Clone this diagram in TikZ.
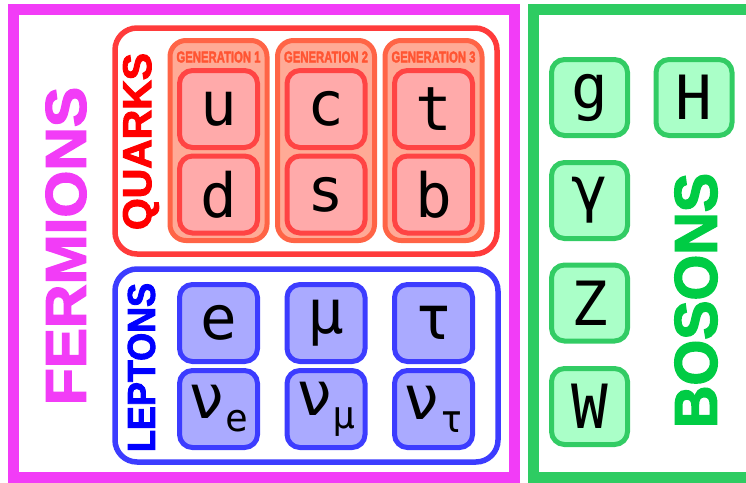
\documentclass[tikz,border=0pt]{standalone}
\usepackage{fontspec}
\usepackage{graphicx}
\setmainfont{DejaVu Sans Mono}
\newfontfamily\capsfont{Liberation Sans}[BoldFont={Liberation Sans Bold},BoldFeatures={FakeBold=2.5}]

\definecolor{fermline}{RGB}{242,60,247}
\definecolor{bosonline}{RGB}{46,204,98}
\definecolor{bosontext}{RGB}{0,204,68}
\definecolor{quarkframe}{RGB}{255,59,59}
\definecolor{quarktext}{RGB}{255,0,0}
\definecolor{genline}{RGB}{255,100,70}
\definecolor{genfill}{RGB}{255,170,150}
\definecolor{gentext}{RGB}{255,85,51}
\definecolor{quarkline}{RGB}{255,68,68}
\definecolor{quarkfill}{RGB}{255,170,170}
\definecolor{leptonline}{RGB}{60,60,255}
\definecolor{leptontext}{RGB}{0,0,255}
\definecolor{leptonfill}{RGB}{170,170,255}
\definecolor{bosonfill}{RGB}{170,255,200}
\definecolor{bosonpart}{RGB}{50,204,100}

\newcommand{\partsize}{\fontsize{61pt}{61pt}\selectfont}
\newcommand{\subsize}{\fontsize{38pt}{38pt}\selectfont}
\newcommand{\grouplabel}[3]{\resizebox{#1}{#2}{\capsfont\bfseries #3}}
\newcommand{\nusub}[1]{ν\raisebox{-13pt}{\subsize #1}}

\begin{document}
\begin{tikzpicture}[x=1pt,y=-1pt,
    particle/.style={line width=5pt,rounded corners=13pt,minimum width=78pt,
        minimum height=77pt,inner sep=0pt,font=\partsize},
    quark/.style={particle,draw=quarkline,fill=quarkfill},
    lepton/.style={particle,draw=leptonline,fill=leptonfill},
    boson/.style={particle,draw=bosonpart,fill=bosonfill,minimum width=76pt,minimum height=76pt},
    genbox/.style={draw=genline,fill=genfill,line width=5pt,rounded corners=16pt,
        minimum width=97pt,minimum height=200pt,inner sep=0pt},
    groupbox/.style={line width=5.5pt,rounded corners=22pt,inner sep=0pt}]
    \useasboundingbox (0,0) rectangle (746,482);
    \clip (0,0) rectangle (746,482);
    % outer frames
    \draw[fermline,line width=11pt] (13.5,9.5) rectangle (514,477);
    \draw[bosonline,line width=11pt] (533.5,9.5) rectangle (780,477);
    \node[rotate=90,text=fermline] (fermlabel) at (66,246) {\grouplabel{318pt}{40pt}{FERMIONS}};
    % quarks
    \node[groupbox,draw=quarkframe,minimum width=382pt,minimum height=226pt] (quarks) at (306,141) {};
    \node[rotate=90,text=quarktext] (quarklabel) at (141,141.5) {\grouplabel{177pt}{28pt}{QUARKS}};
    \node[genbox] (gen1) at (218.5,140.5) {};
    \node[genbox] (gen2) at (326,140.5) {};
    \node[genbox] (gen3) at (433.5,140.5) {};
    \node[text=gentext] (gen1label) at (218.5,57) {\grouplabel{84pt}{11pt}{GENERATION 1}};
    \node[text=gentext] (gen2label) at (326,57) {\grouplabel{84pt}{11pt}{GENERATION 2}};
    \node[text=gentext] (gen3label) at (433.5,57) {\grouplabel{84pt}{11pt}{GENERATION 3}};
    \node[quark] (u) at (218.5,109) {u};
    \node[quark] (c) at (326,109) {c};
    \node[quark] (t) at (433.5,109) {t};
    \node[quark] (d) at (218.5,194.5) {d};
    \node[quark] (s) at (326,194.5) {s};
    \node[quark] (b) at (433.5,194.5) {b};
    % leptons
    \node[groupbox,draw=leptonline,minimum width=383pt,minimum height=193pt] (leptons) at (306.5,365.5) {};
    \node[rotate=90,text=leptontext] (leptonlabel) at (141.5,367.5) {\grouplabel{169pt}{27pt}{LEPTONS}};
    \node[lepton] (e) at (218.5,323) {e};
    \node[lepton] (mu) at (326,323) {μ};
    \node[lepton] (tau) at (433.5,323) {τ};
    \node[lepton] (nue) at (218.5,409) {\nusub{e}};
    \node[lepton] (numu) at (326,409) {\nusub{μ}};
    \node[lepton] (nutau) at (433.5,409) {\nusub{τ}};
    % bosons
    \node[boson] (g) at (589.5,97.5) {g};
    \node[boson] (H) at (694,97.5) {H};
    \node[boson] (gamma) at (589.5,200.5) {γ};
    \node[boson] (Z) at (589.5,303) {Z};
    \node[boson] (W) at (589.5,406.5) {W};
    \node[rotate=90,text=bosontext] (bosonlabel) at (696,300.5) {\grouplabel{255pt}{42pt}{BOSONS}};
\end{tikzpicture}
\end{document}
